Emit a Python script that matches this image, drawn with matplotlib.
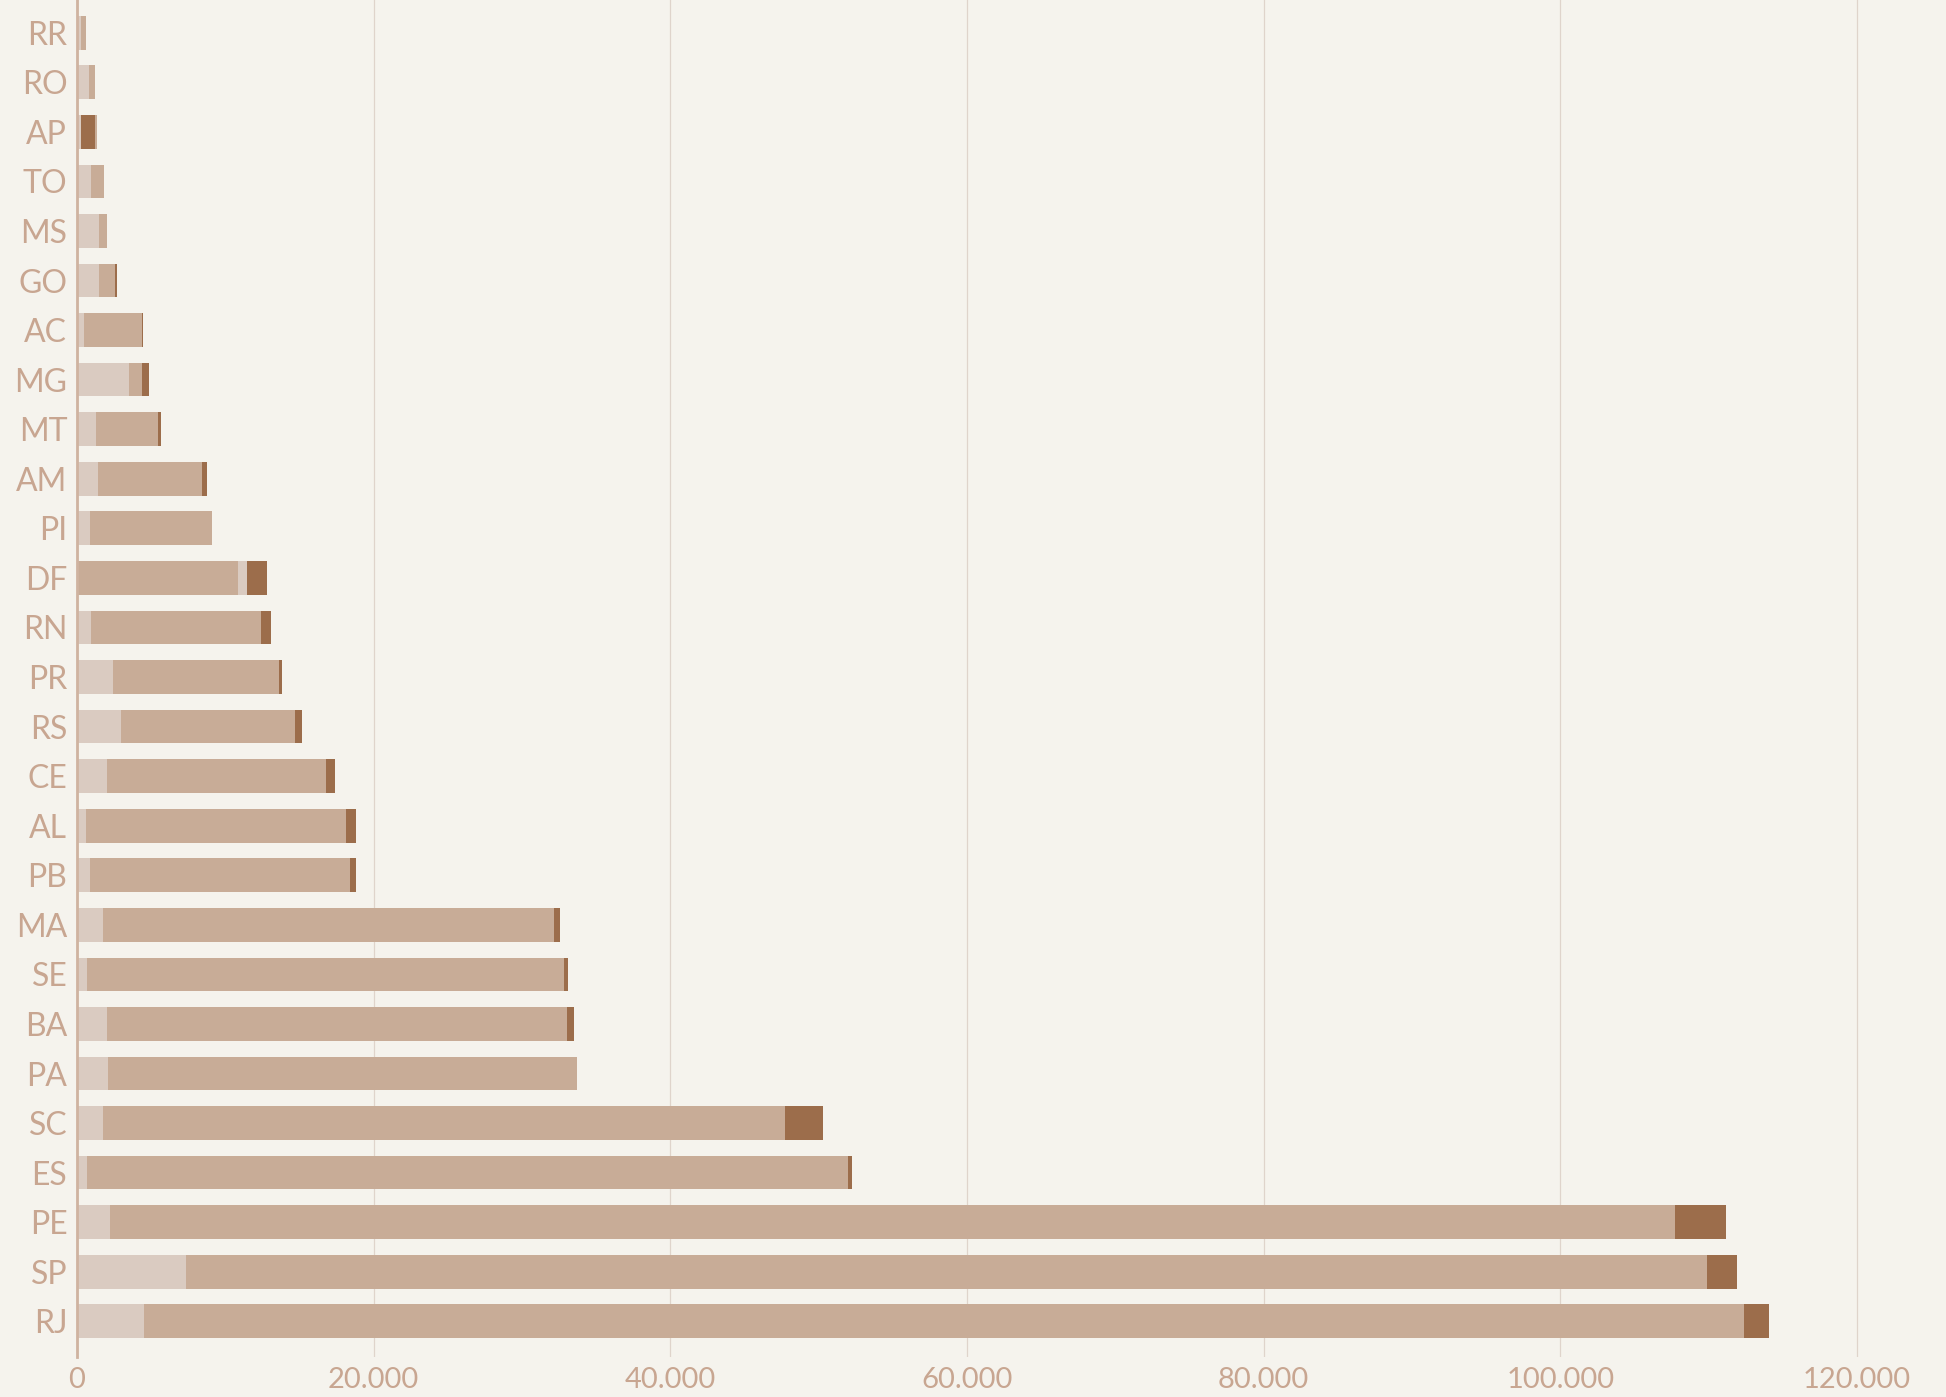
import numpy as np
import matplotlib
matplotlib.use("Agg")
import matplotlib.pyplot as plt

plt.rcParams['font.family'] = ['Lato', 'DejaVu Sans']

states = ['RR', 'RO', 'AP', 'TO', 'MS', 'GO', 'AC', 'MG', 'MT', 'AM', 'PI', 'DF', 'RN', 'PR',
          'RS', 'CE', 'AL', 'PB', 'MA', 'SE', 'BA', 'PA', 'SC', 'ES', 'PE', 'SP', 'RJ']

# segment lengths, stacked left to right in this order
light_a = [290, 830, 290, 960, 1500, 1500, 490, 3530, 1300, 1440, 900, 0, 960, 2450,
           2990, 2040, 630, 900, 1760, 680, 2030, 2090, 1760, 680, 2210, 7350, 4520]
medium_a = [340, 400, 0, 880, 540, 1080, 3910, 870, 4180, 7010, 8220, 10880, 11470, 11190,
            11730, 14770, 17530, 17530, 30390, 32160, 30970, 31610, 45940, 51320, 105490, 102550, 107880]
light_b = [0, 0, 0, 0, 0, 0, 0, 0, 0, 0, 0, 600, 0, 0,
           0, 0, 0, 0, 0, 0, 0, 0, 0, 0, 0, 0, 0]
dark = [0, 0, 940, 0, 0, 140, 70, 480, 200, 340, 0, 1350, 670, 200,
        470, 610, 670, 400, 420, 260, 500, 0, 2600, 270, 3500, 2000, 1650]
medium_b = [0, 0, 140, 0, 0, 0, 0, 0, 0, 0, 0, 0, 0, 0,
            0, 0, 0, 0, 0, 0, 0, 0, 0, 0, 0, 0, 0]

x_ticks = [0, 20000, 40000, 60000, 80000, 100000, 120000]
x_labels = ['0', '20.000', '40.000', '60.000', '80.000', '100.000', '120.000']

bg = '#f5f3ed'
c_light = '#dacbc1'
c_medium = '#c8ac97'
c_dark = '#9c6d4b'
c_text = '#c8a691'

fig = plt.figure(figsize=(19.46, 13.97), dpi=100, facecolor=bg)
ax = fig.add_axes([77 / 1946, 40 / 1397, 1 - 77 / 1946, 1357 / 1397])
ax.set_facecolor(bg)

y = np.arange(len(states))
left = np.zeros(len(states))
for vals, col in [(light_a, c_light), (medium_a, c_medium), (light_b, c_light),
                  (dark, c_dark), (medium_b, c_medium)]:
    vals = np.array(vals, dtype=float)
    ax.barh(y, vals, left=left, height=0.68, color=col, linewidth=0, zorder=3)
    left += vals

ax.set_ylim(26.72, -0.66)
ax.set_xlim(0, 126000)
ax.set_yticks(y)
ax.set_yticklabels(states, fontsize=23, color=c_text)
ax.set_xticks(x_ticks)
ax.set_xticklabels(x_labels, fontsize=21, color=c_text)
ax.tick_params(axis='y', length=0, pad=7)
ax.tick_params(axis='x', length=0, pad=7)

ax.grid(axis='x', color='#dfd4cb', linewidth=0.9, zorder=0)
for s in ['top', 'right', 'bottom']:
    ax.spines[s].set_visible(False)
ax.spines['left'].set_color('#cfb3a0')
ax.spines['left'].set_linewidth(2)
ax.spines['left'].set_zorder(4)

fig.savefig('out.png', dpi=100, facecolor=bg)
